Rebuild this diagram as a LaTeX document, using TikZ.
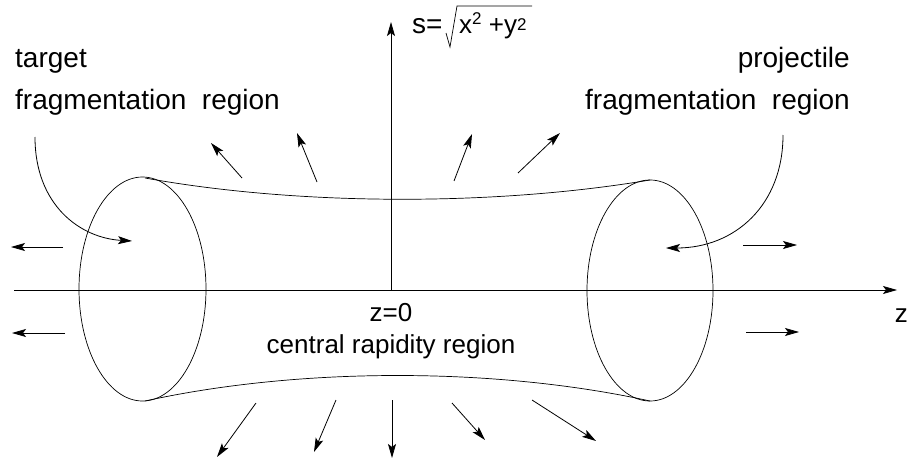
\documentclass[tikz,border=0pt]{standalone}
\usepackage{fontspec}
\setmainfont{Liberation Sans}
\usetikzlibrary{arrows.meta}
\begin{document}
\begin{tikzpicture}[x=1pt,y=-1pt,
  lbl/.style={font=\fontsize{26}{30}\selectfont, inner sep=0pt},
  biglbl/.style={font=\fontsize{28}{32}\selectfont, inner sep=0pt},
  arr/.style={line width=0.8pt, -{Stealth[length=14pt,width=8pt,inset=3pt]}},
  thinline/.style={line width=0.7pt}]
\useasboundingbox (0,0) rectangle (908,460);
% texts
\node[biglbl, anchor=base west] (target) at (15,68) {target};
\node[biglbl, anchor=base west] (tfrag) at (15,110) {fragmentation\ \ region};
\node[biglbl, anchor=base east] (proj) at (850,68) {projectile};
\node[biglbl, anchor=base east] (pfrag) at (850,110) {fragmentation\ \ region};
\node[lbl, anchor=base] (z0) at (391,321) {z=0};
\node[lbl, anchor=base] (central) at (391,353) {central rapidity region};
\node[lbl, anchor=base east] (zlab) at (908,322) {z};
% s label
\node[biglbl, anchor=base west] (slab) at (412,34) {s=};
\node[lbl, anchor=base west] (rad) at (459,34) {x\raisebox{9pt}{\fontsize{17}{17}\selectfont 2} +y\raisebox{3pt}{\fontsize{17}{17}\selectfont 2}};
\coordinate (r1) at (446,33);
\coordinate (r2) at (450,47);
\coordinate (r3) at (457,6);
\coordinate (r4) at (532,6);
\draw[thinline] (r1) -- (r2) -- (r3) -- (r4);
% axes
\coordinate (O) at (391,290);
\coordinate (stop) at (391,22);
\coordinate (zs) at (14,290);
\coordinate (ze) at (897,290);
\draw[arr] (O) -- (stop);
\draw[arr] (zs) -- (ze);
% tube
\draw[thinline] (142.5,289) ellipse [x radius=63.5, y radius=112];
\draw[thinline] (650,290.5) ellipse [x radius=63, y radius=110.5];
\coordinate (tl) at (145,178);
\coordinate (tr) at (650,180);
\coordinate (bl) at (145,401);
\coordinate (br) at (650,401);
\draw[thinline] (tl) .. controls (300,206) and (495,206) .. (tr);
\draw[thinline] (bl) .. controls (300,367) and (495,367) .. (br);
% curved arrows
\coordinate (ca1) at (35,137);
\coordinate (ca2) at (132,241);
\coordinate (cb1) at (783,135);
\coordinate (cb2) at (666,248);
\draw[arr] (ca1) .. controls (35,205) and (80,238) .. (ca2);
\draw[arr] (cb1) .. controls (783,205) and (735,248) .. (cb2);
% radial arrows
\foreach \n/\a/\b/\c/\d in {
  u1/242/178/211/143, u2/317/182/297/133, u3/454/181/472/134, u4/518/173/560/133,
  d1/256/403/217/457, d2/336/400/314/452, d3/392/400/392/458, d4/452/403/485/440, d5/532/400/596/441,
  l1/63/247/11/247, l2/65/333/12/333, q1/743/245/797/245, q2/746/332/799/332}
{
  \coordinate (\n s) at (\a,\b);
  \coordinate (\n e) at (\c,\d);
  \draw[arr] (\n s) -- (\n e);
}
\end{tikzpicture}
\end{document}
